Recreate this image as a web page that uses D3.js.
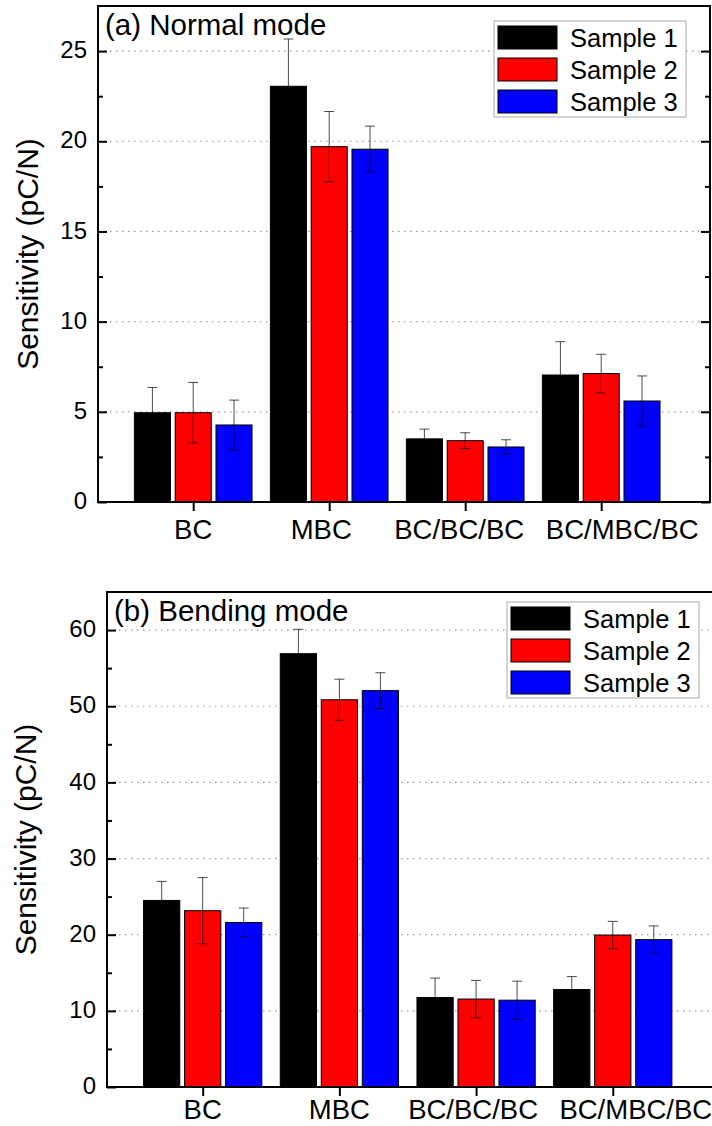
<!DOCTYPE html>
<html>
<head>
<meta charset="utf-8">
<script src="https://cdn.jsdelivr.net/npm/d3@7"></script>
<style>
  html, body { margin: 0; padding: 0; background: #fff; }
  svg { display: block; font-family: "Liberation Sans", Arial, sans-serif; }
</style>
</head>
<body>
<svg id="chart" width="712" height="1126"></svg>
<script>
// categories + series
const categories = ["BC", "MBC", "BC/BC/BC", "BC/MBC/BC"];
const seriesNames = ["Sample 1", "Sample 2", "Sample 3"];
const seriesColors = ["#000000", "#ff0000", "#0000ff"];

// (a) normal mode, mean and error
const normalS1 = [4.95, 23.05, 3.5, 7.04];
const normalS2 = [4.95, 19.7, 3.4, 7.12];
const normalS3 = [4.27, 19.56, 3.05, 5.6];
const normalErr1 = [1.4, 2.62, 0.54, 1.85];
const normalErr2 = [1.68, 1.95, 0.44, 1.07];
const normalErr3 = [1.38, 1.28, 0.4, 1.39];

// (b) bending mode
const bendS1 = [24.5, 56.9, 11.75, 12.8];
const bendS2 = [23.15, 50.85, 11.55, 19.95];
const bendS3 = [21.6, 52.05, 11.4, 19.35];
const bendErr1 = [2.5, 3.2, 2.55, 1.7];
const bendErr2 = [4.35, 2.7, 2.45, 1.8];
const bendErr3 = [1.9, 2.35, 2.5, 1.8];

const normalTicks = [0, 5, 10, 15, 20, 25];
const bendTicks = [0, 10, 20, 30, 40, 50, 60];

const svg = d3.select("#chart");

function drawPanel(opt) {
  const { left, top, bottom, unit, yMax, ticks, minorStep, title, means, errs } = opt;

  const x = d3.scaleLinear().domain([0.3, 4.8]).range([left, left + 4.5 * unit]);
  const y = d3.scaleLinear().domain([0, yMax]).range([bottom, top]);
  const right = x(4.8);
  const g = svg.append("g");

  // dotted grid at major ticks
  g.selectAll(".grid")
    .data(ticks.filter(t => t > 0))
    .enter().append("line")
    .attr("x1", left).attr("x2", right)
    .attr("y1", d => y(d)).attr("y2", d => y(d))
    .attr("stroke", "#9a9a9a")
    .attr("stroke-width", 1.2)
    .attr("stroke-dasharray", "1.5,4.5");

  // bars
  const rows = [];
  means.forEach((arr, j) => arr.forEach((v, i) => rows.push({ i, j, v, e: errs[j][i] })));
  const bw = 0.265, step = 0.3;
  const cx = d => x(d.i + 1 + (d.j - 1) * step);

  g.selectAll(".bar")
    .data(rows)
    .enter().append("rect")
    .attr("x", d => cx(d) - (bw * unit) / 2)
    .attr("width", bw * unit)
    .attr("y", d => y(d.v))
    .attr("height", d => y(0) - y(d.v))
    .attr("fill", d => seriesColors[d.j])
    .attr("stroke", "#000")
    .attr("stroke-width", 1);

  // error bars (thin black, looks grey on white)
  const eb = g.selectAll(".err").data(rows).enter().append("g")
    .attr("stroke", "#000").attr("stroke-width", 0.7);
  eb.append("line")
    .attr("x1", cx).attr("x2", cx)
    .attr("y1", d => y(d.v - d.e)).attr("y2", d => y(d.v + d.e));
  eb.append("line")
    .attr("x1", d => cx(d) - 5).attr("x2", d => cx(d) + 5)
    .attr("y1", d => y(d.v + d.e)).attr("y2", d => y(d.v + d.e));
  eb.append("line")
    .attr("x1", d => cx(d) - 5).attr("x2", d => cx(d) + 5)
    .attr("y1", d => y(d.v - d.e)).attr("y2", d => y(d.v - d.e));

  // axes: left, right (inward ticks), bottom (outward)
  const minor = d3.range(minorStep, yMax, minorStep).filter(v => !ticks.includes(v));
  const leftAx = g.append("g").attr("transform", `translate(${left},0)`)
    .call(d3.axisRight(y).tickValues(ticks).tickSize(9).tickFormat(""));
  const leftMinor = g.append("g").attr("transform", `translate(${left},0)`)
    .call(d3.axisRight(y).tickValues(minor).tickSize(5).tickFormat(""));
  const rightAx = g.append("g").attr("transform", `translate(${right},0)`)
    .call(d3.axisLeft(y).tickValues(ticks).tickSize(9).tickFormat(""));
  const rightMinor = g.append("g").attr("transform", `translate(${right},0)`)
    .call(d3.axisLeft(y).tickValues(minor).tickSize(5).tickFormat(""));
  const bottomAx = g.append("g").attr("transform", `translate(0,${bottom})`)
    .call(d3.axisBottom(x).tickValues([1, 2, 3, 4]).tickSize(9).tickFormat(""));
  [leftAx, leftMinor, rightAx, rightMinor, bottomAx].forEach(a => {
    a.select(".domain").remove();
    a.selectAll(".tick line").attr("stroke", "#000").attr("stroke-width", 2);
  });

  // tick labels
  g.selectAll(".ylab")
    .data(ticks)
    .enter().append("text")
    .attr("x", left - 11)
    .attr("y", d => y(d))
    .attr("dy", "0.3em")
    .attr("text-anchor", "end")
    .style("font-size", "24px")
    .text(d => d);

  // category labels (slightly nudged in the original figure)
  g.selectAll(".xlab")
    .data(categories)
    .enter().append("text")
    .attr("x", (d, i) => x(i + 1) + opt.labelShift[i])
    .attr("y", bottom + opt.labelDy)
    .attr("text-anchor", "middle")
    .style("font-size", "27.5px")
    .text(d => d);

  // frame
  g.append("rect")
    .attr("x", left).attr("y", top)
    .attr("width", right - left).attr("height", bottom - top)
    .attr("fill", "none").attr("stroke", "#000").attr("stroke-width", 2);

  // panel title
  g.append("text")
    .attr("x", left + 7)
    .attr("y", top + 29)
    .style("font-size", "29.5px")
    .text(title);

  // y label
  g.append("text")
    .attr("transform", `translate(${opt.labelX},${(top + bottom) / 2}) rotate(-90)`)
    .attr("text-anchor", "middle")
    .style("font-size", "30px")
    .text("Sensitivity (pC/N)");

  // legend
  const lg = g.append("g").attr("transform", `translate(${opt.legX},${opt.legY})`);
  lg.append("rect")
    .attr("width", 192).attr("height", 96)
    .attr("fill", "#fff").attr("stroke", "#aaa").attr("stroke-width", 1);
  const items = lg.selectAll(".item").data(seriesNames).enter().append("g")
    .attr("transform", (d, i) => `translate(0,${i * 32})`);
  items.append("rect")
    .attr("x", 4).attr("y", 5).attr("width", 59).attr("height", 23)
    .attr("fill", (d, i) => seriesColors[i]).attr("stroke", "#000").attr("stroke-width", 1);
  items.append("text")
    .attr("x", 76).attr("y", 26)
    .style("font-size", "25.5px")
    .text(d => d);
}

drawPanel({
  left: 98, top: 6, bottom: 502, unit: 136, yMax: 27.5,
  ticks: normalTicks, minorStep: 2.5,
  title: "(a) Normal mode",
  means: [normalS1, normalS2, normalS3],
  errs: [normalErr1, normalErr2, normalErr3],
  labelX: 38, legX: 494, legY: 21,
  labelShift: [0, -8, -6, 21], labelDy: 37
});

drawPanel({
  left: 107, top: 592, bottom: 1087, unit: 136.7, yMax: 65,
  ticks: bendTicks, minorStep: 5,
  title: "(b) Bending mode",
  means: [bendS1, bendS2, bendS3],
  errs: [bendErr1, bendErr2, bendErr3],
  labelX: 36, legX: 507, legY: 602,
  labelShift: [0, 0, -3, 23], labelDy: 32
});
</script>
</body>
</html>
